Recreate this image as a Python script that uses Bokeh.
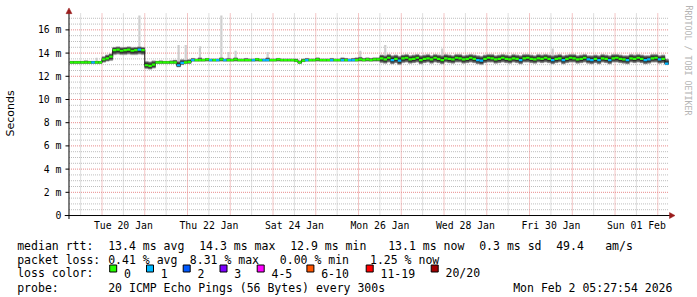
from datetime import datetime, timedelta
from bokeh.plotting import figure
from bokeh.layouts import column, row
from bokeh.models import Range1d, FixedTicker
from bokeh.core.properties import value
from bokeh.embed import file_html
from bokeh.resources import INLINE

# ---------------- data ----------------
start_time = "2026-01-19 06:00"      # first 2-hour sample
step_hours = 2
view_start = "2026-01-19 05:27:54"
view_end = "2026-02-02 05:27:54"

# median RTT per 2h step (ms)
median_ms = [
    13.2, 13.2, 13.2, 13.2, 13.2, 13.2, 13.2, 13.2, 13.2, 13.45, 13.55, 13.7,
    14.25, 14.3, 14.2, 14.25, 14.3, 14.2, 14.25, 14.3, 14.25, 12.95, 12.9, 13.0,
    13.2, 13.2, 13.2, 13.2, 13.2, 13.2, 12.95, 13.15, 13.2, 13.25, 13.4, 13.4,
    13.4, 13.4, 13.45, 13.4, 13.4, 13.4, 13.45, 13.4, 13.4, 13.4, 13.45, 13.4,
    13.4, 13.4, 13.4, 13.4, 13.45, 13.4, 13.4, 13.4, 13.4, 13.4, 13.45, 13.4,
    13.4, 13.4, 13.4, 13.35, 13.2, 13.35, 13.4, 13.4, 13.4, 13.45, 13.4, 13.4,
    13.4, 13.4, 13.4, 13.4, 13.4, 13.4, 13.4, 13.4, 13.4, 13.45, 13.4, 13.45,
    13.4, 13.45, 13.45, 13.55, 13.45, 13.6, 13.4, 13.5, 13.35, 13.55, 13.6, 13.45,
    13.5, 13.6, 13.4, 13.5, 13.55, 13.45, 13.6, 13.5, 13.4, 13.55, 13.5, 13.45,
    13.6, 13.55, 13.45, 13.5, 13.6, 13.5, 13.4, 13.35, 13.5, 13.6, 13.55, 13.45,
    13.5, 13.6, 13.5, 13.45, 13.55, 13.5, 13.4, 13.55, 13.6, 13.5, 13.45, 13.55,
    13.5, 13.6, 13.5, 13.4, 13.5, 13.55, 13.4, 13.5, 13.6, 13.55, 13.45, 13.5,
    13.6, 13.45, 13.4, 13.5, 13.4, 13.55, 13.5, 13.4, 13.55, 13.6, 13.5, 13.45,
    13.4, 13.55, 13.5, 13.6, 13.5, 13.4, 13.45, 13.55, 13.6, 13.45, 13.5, 13.1,
]
# lost pings (of 20) per step
lost_pings = [
    0, 0, 0, 0, 0, 0, 1, 0, 0, 0, 0, 0,
    0, 0, 0, 0, 0, 0, 0, 1, 0, 0, 0, 0,
    0, 0, 0, 0, 0, 0, 1, 1, 0, 0, 1, 0,
    0, 0, 0, 1, 0, 1, 0, 1, 0, 0, 0, 0,
    0, 0, 0, 1, 0, 0, 1, 1, 0, 0, 0, 0,
    0, 0, 0, 0, 0, 0, 1, 0, 0, 0, 0, 0,
    0, 1, 0, 0, 1, 0, 1, 1, 0, 0, 0, 0,
    0, 0, 0, 0, 0, 0, 1, 0, 1, 0, 0, 0,
    0, 0, 0, 0, 0, 0, 0, 0, 0, 0, 0, 0,
    0, 0, 0, 0, 0, 0, 1, 1, 0, 0, 0, 0,
    0, 0, 0, 0, 0, 0, 1, 0, 0, 0, 0, 0,
    0, 0, 0, 1, 0, 0, 1, 0, 0, 0, 0, 0,
    0, 1, 1, 0, 1, 0, 0, 1, 0, 0, 0, 0,
    1, 0, 0, 0, 0, 1, 1, 0, 0, 1, 0, 1,
]
# smoke (spread of the 20 pings) lower / upper bound, ms
smoke_lo = [
    13.1, 13.1, 13.1, 13.1, 13.1, 13.1, 13.1, 13.1, 13.1, 13.2, 13.3, 13.35,
    13.85, 13.9, 13.85, 13.85, 13.9, 13.85, 13.85, 13.9, 13.85, 12.65, 12.6, 12.7,
    13.1, 13.1, 13.1, 13.1, 13.1, 13.1, 12.8, 13.0, 13.1, 13.1, 13.3, 13.3,
    13.3, 13.3, 13.3, 13.3, 13.3, 13.3, 13.3, 13.3, 13.3, 13.3, 13.3, 13.3,
    13.3, 13.3, 13.3, 13.3, 13.3, 13.3, 13.3, 13.3, 13.3, 13.3, 13.3, 13.3,
    13.3, 13.3, 13.3, 13.25, 13.1, 13.25, 13.3, 13.3, 13.3, 13.3, 13.3, 13.3,
    13.3, 13.3, 13.3, 13.3, 13.3, 13.3, 13.3, 13.3, 13.3, 13.3, 13.3, 13.3,
    13.3, 13.3, 13.3, 13.15, 13.1, 13.2, 13.05, 13.15, 13.0, 13.15, 13.2, 13.1,
    13.15, 13.2, 13.05, 13.15, 13.2, 13.1, 13.2, 13.15, 13.05, 13.2, 13.15, 13.1,
    13.2, 13.2, 13.1, 13.15, 13.2, 13.15, 13.05, 13.0, 13.15, 13.2, 13.2, 13.1,
    13.15, 13.2, 13.15, 13.1, 13.2, 13.15, 13.05, 13.2, 13.2, 13.15, 13.1, 13.2,
    13.15, 13.2, 13.15, 13.05, 13.15, 13.2, 13.05, 13.15, 13.2, 13.2, 13.1, 13.15,
    13.2, 13.1, 13.05, 13.15, 13.05, 13.2, 13.15, 13.05, 13.2, 13.2, 13.15, 13.1,
    13.05, 13.2, 13.15, 13.2, 13.15, 13.05, 13.1, 13.2, 13.2, 13.1, 13.15, 13.0,
]
smoke_hi = [
    13.3, 13.3, 13.3, 13.3, 13.35, 13.3, 13.3, 13.3, 13.3, 13.7, 13.85, 13.95,
    14.5, 14.55, 14.5, 14.5, 14.55, 14.5, 14.5, 14.55, 14.5, 13.3, 13.25, 13.35,
    13.3, 13.35, 13.3, 13.3, 13.35, 13.4, 13.3, 13.45, 13.4, 13.45, 13.55, 13.5,
    13.6, 13.5, 13.55, 13.5, 13.5, 13.5, 13.6, 13.5, 13.55, 13.5, 13.6, 13.5,
    13.5, 13.55, 13.5, 13.5, 13.55, 13.5, 13.5, 13.6, 13.5, 13.5, 13.55, 13.5,
    13.5, 13.5, 13.5, 13.5, 13.35, 13.5, 13.55, 13.5, 13.5, 13.6, 13.5, 13.5,
    13.5, 13.55, 13.5, 13.5, 13.6, 13.55, 13.5, 13.55, 13.6, 13.65, 13.55, 13.6,
    13.55, 13.6, 13.6, 13.85, 13.8, 13.9, 13.8, 13.85, 13.75, 13.85, 13.9, 13.8,
    13.85, 13.9, 13.8, 13.85, 13.9, 13.8, 13.9, 13.85, 13.8, 13.9, 13.85, 13.8,
    13.9, 13.9, 13.8, 13.85, 13.9, 13.85, 13.8, 13.75, 13.85, 13.9, 13.9, 13.8,
    13.85, 13.9, 13.85, 13.8, 13.9, 13.85, 13.8, 13.9, 13.9, 13.85, 13.8, 13.9,
    13.85, 13.9, 13.85, 13.8, 13.85, 13.9, 13.8, 13.85, 13.9, 13.9, 13.8, 13.85,
    13.9, 13.8, 13.8, 13.85, 13.8, 13.9, 13.85, 13.8, 13.9, 13.9, 13.85, 13.8,
    13.8, 13.9, 13.85, 13.9, 13.85, 13.8, 13.8, 13.9, 13.9, 13.8, 13.85, 13.5,
]
# single slow pings (max of a step), ms
spike_times = ["2026-01-19 20:00", "2026-01-20 20:00", "2026-01-21 18:00",
               "2026-01-21 22:00", "2026-01-22 06:00", "2026-01-22 18:00",
               "2026-01-22 22:00", "2026-01-23 02:00", "2026-01-23 20:00",
               "2026-01-26 00:00", "2026-01-26 14:00", "2026-01-27 22:00",
               "2026-01-30 12:00"]
spike_ms = [13.6, 17.25, 14.7, 14.7, 14.6, 17.25, 14.1, 14.2, 14.1,
            14.2, 14.7, 14.4, 14.4]

x_label_days = ["2026-01-20", "2026-01-22", "2026-01-24", "2026-01-26",
                "2026-01-28", "2026-01-30", "2026-02-01"]
x_label_text = ["Tue 20 Jan", "Thu 22 Jan", "Sat 24 Jan", "Mon 26 Jan",
                "Wed 28 Jan", "Fri 30 Jan", "Sun 01 Feb"]
y_ticks = [0, 2, 4, 6, 8, 10, 12, 14, 16]
y_tick_text = ["0", "2 m", "4 m", "6 m", "8 m", "10 m", "12 m", "14 m", "16 m"]
y_top = 17.45

loss_classes = ["0", "1", "2", "3", "4-5", "6-10", "11-19", "20/20"]
loss_upper = [0, 1, 2, 3, 5, 10, 19, 20]
loss_colors = ["#26ff00", "#00b8ff", "#0059ff", "#7e00ff", "#ff00ff",
               "#ff5500", "#ff0000", "#a10000"]

legend_rtt = ["median rtt:", "13.4 ms avg", "14.3 ms max", "12.9 ms min",
              "13.1 ms now", "0.3 ms sd", "49.4", "am/s"]
legend_loss = ["packet loss:", "0.41 % avg", "8.31 % max", "0.00 % min",
               "1.25 % now"]
legend_probe = ["probe:", "20 ICMP Echo Pings (56 Bytes) every 300s",
                "Mon Feb  2 05:27:54 2026"]
watermark = "RRDTOOL / TOBI OETIKER"

# ---------------- helpers ----------------
EPOCH = datetime(1970, 1, 1)


def ms(dt):
    return (dt - EPOCH).total_seconds() * 1000.0


def parse(s):
    for f in ("%Y-%m-%d %H:%M", "%Y-%m-%d %H:%M:%S", "%Y-%m-%d"):
        try:
            return datetime.strptime(s, f)
        except ValueError:
            pass
    raise ValueError(s)


def loss_color(n):
    for up, c in zip(loss_upper, loss_colors):
        if n <= up:
            return c
    return loss_colors[-1]


def no_align(fig):
    try:
        fig.frame_align = False
    except Exception:
        pass


t0 = parse(start_time)
step = timedelta(hours=step_hours)
n = len(median_ms)
left = [ms(t0 + i * step) for i in range(n)]
right = [ms(t0 + (i + 1) * step) for i in range(n)]

x0 = ms(parse(view_start))
x1 = ms(parse(view_end))

# geometry: data area 66.5 .. 667 px, y=0 at 216 px, 11.657 px per ms
PX_X = (x1 - x0) / 600.5          # ms of time per pixel
PX_Y = 1.0 / 11.657               # ms of RTT per pixel
FR_L, FR_R, FR_T, FR_B = 62, 675, 7, 220
MONO = value("DejaVu Sans Mono")

# ---------------- main chart ----------------
p = figure(width=FR_R + 1, height=233, x_axis_type="datetime",
           x_range=Range1d(x0 - 4.5 * PX_X, x1 + 8 * PX_X),
           y_range=Range1d(-4 * PX_Y, 0 + 209 * PX_Y),
           output_backend="svg", toolbar_location=None,
           min_border_left=FR_L, min_border_right=1, min_border_top=FR_T,
           min_border_bottom=233 - FR_B, background_fill_color="white",
           border_fill_color="white")
no_align(p)
p.outline_line_color = None
p.grid.visible = False

# grid lines (dotted), limited to the data area
days = []
d = datetime(parse(view_start).year, parse(view_start).month, parse(view_start).day)
while ms(d) <= x1:
    days.append(d)
    d += timedelta(days=1)
midnights = [ms(v) for v in days if ms(v) >= x0]
noons = [ms(v + timedelta(hours=12)) for v in days if x0 <= ms(v + timedelta(hours=12)) <= x1]
y_minor = [k * 0.5 for k in range(1, 35) if k % 4 != 0]
y_major = [v for v in y_ticks if v > 0]
GR, GG = "#e88a8a", "#bdbdbd"
p.segment(x0=noons, x1=noons, y0=[0] * len(noons), y1=[y_top] * len(noons),
          line_color=GG, line_dash="1 1", line_width=1)
p.segment(x0=[x0] * len(y_minor), x1=[x1 + PX_X] * len(y_minor), y0=y_minor,
          y1=y_minor, line_color=GG, line_dash="1 1", line_width=1)
p.segment(x0=midnights, x1=midnights, y0=[0] * len(midnights),
          y1=[y_top] * len(midnights), line_color=GR, line_dash="1 1", line_width=1)
p.segment(x0=[x0] * len(y_major), x1=[x1 + PX_X] * len(y_major), y0=y_major,
          y1=y_major, line_color=GR, line_dash="1 1", line_width=1)

# axes (labels only; lines drawn below)
label_ticks = [ms(parse(s) + timedelta(hours=12)) for s in x_label_days]
p.xaxis.ticker = FixedTicker(ticks=label_ticks, minor_ticks=[])
p.xaxis.major_label_overrides = {t: s for t, s in zip(label_ticks, x_label_text)}
p.yaxis.ticker = FixedTicker(ticks=y_ticks, minor_ticks=[])
p.yaxis.major_label_overrides = {float(v): s for v, s in zip(y_ticks, y_tick_text)}
for ax in (p.xaxis, p.yaxis):
    ax.axis_line_color = None
    ax.major_tick_line_color = None
    ax.minor_tick_line_color = None
    ax.major_tick_out = 0
    ax.major_tick_in = 0
    ax.minor_tick_out = 0
    ax.minor_tick_in = 0
    ax.major_label_text_font = "DejaVu Sans Mono"
    ax.major_label_text_font_size = "9.8px"
    ax.major_label_text_color = "#000000"
p.xaxis.major_label_standoff = 0
p.yaxis.major_label_standoff = 3
p.yaxis.axis_label = "Seconds"
p.yaxis.axis_label_text_font = "DejaVu Sans"
p.yaxis.axis_label_text_font_size = "11px"
p.yaxis.axis_label_text_font_style = "normal"
p.yaxis.axis_label_text_color = "#000000"
p.yaxis.axis_label_standoff = 18

# spikes (slow single pings)
sp_x = [ms(parse(s) + step / 2) for s in spike_times]
sp_base = []
for s in spike_times:
    i = int(round((ms(parse(s)) - left[0]) / (step.total_seconds() * 1000)))
    sp_base.append(median_ms[i])
p.vbar(x=sp_x, width=2.2 * PX_X, bottom=sp_base, top=spike_ms,
       fill_color="#cfcfcf", line_color=None)

# smoke bands
outer_b, outer_t, mid_b, mid_t, in_b, in_t = [], [], [], [], [], []
for m, lo, hi in zip(median_ms, smoke_lo, smoke_hi):
    outer_b.append(lo); outer_t.append(hi)
    mid_b.append(m - 0.8 * (m - lo)); mid_t.append(m + 0.8 * (hi - m))
    in_b.append(m - 0.5 * (m - lo)); in_t.append(m + 0.5 * (hi - m))
p.quad(left=left, right=right, bottom=outer_b, top=outer_t,
       fill_color="#a6a6a6", line_color="#a6a6a6", line_width=0.4)
p.quad(left=left, right=right, bottom=mid_b, top=mid_t,
       fill_color="#5c5c5c", line_color="#5c5c5c", line_width=0.4)
p.quad(left=left, right=right, bottom=in_b, top=in_t,
       fill_color="#2e2e2e", line_color="#2e2e2e", line_width=0.4)

# median: black connecting step line + loss-coloured segments
p.step(x=left + [right[-1]], y=median_ms + [median_ms[-1]], mode="after",
       line_color="#1a1a1a", line_width=1)
p.segment(x0=left, x1=right, y0=median_ms, y1=median_ms,
          line_color=[loss_color(v) for v in lost_pings], line_width=2.2)

# axis lines, tick dashes and arrow heads
p.segment(x0=[x0 - 4.5 * PX_X, x0], x1=[x1 + 3 * PX_X, x0],
          y0=[0, -3.5 * PX_Y], y1=[0, y_top + 0.1], line_color="#000000",
          line_width=1)
p.segment(x0=[x0 - 3.5 * PX_X] * len(y_major), x1=[x0] * len(y_major),
          y0=y_major, y1=y_major, line_color="#000000", line_width=1)
AC = "#9a1c1c"
p.patches(xs=[[x0 - 3 * PX_X, x0 + 3 * PX_X, x0],
              [x1 + 2 * PX_X, x1 + 2 * PX_X, x1 + 7.5 * PX_X]],
          ys=[[y_top - 0.05, y_top - 0.05, y_top + 5.2 * PX_Y],
              [3 * PX_Y, -3 * PX_Y, 0]],
          fill_color=AC, line_color=AC, line_width=0.5)

# ---------------- watermark strip ----------------
wm = figure(width=697 - (FR_R + 1), height=233, x_range=Range1d(FR_R + 1, 697),
            y_range=Range1d(233, 0), output_backend="svg",
            toolbar_location=None, min_border=0)
no_align(wm)
wm.axis.visible = False
wm.grid.visible = False
wm.outline_line_color = None
wm.text(x=[688], y=[5], text=[watermark], angle=-1.5708, text_font=MONO,
        text_font_size="8.3px", text_align="left", text_baseline="middle",
        text_color="#b4b4b4")

# ---------------- legend block ----------------
leg = figure(width=697, height=64, x_range=Range1d(0, 697),
             y_range=Range1d(297, 233), output_backend="svg",
             toolbar_location=None, min_border=0)
no_align(leg)
leg.axis.visible = False
leg.grid.visible = False
leg.outline_line_color = None

rtt_x = [16.7, 107.7, 198.7, 289.7, 387.7, 478.7, 555.7, 604.7]
loss_x = [16.7, 107.7, 189.3, 279.3, 369.5]
probe_x = [16.7, 107.7, 512.7]
sq_x = [109, 145.8, 182.5, 219.3, 256.5, 306.2, 365.5, 430.5]

txt_x = rtt_x + loss_x + [16.7] + [sx + 14.5 for sx in sq_x] + probe_x
txt_y = ([245] * len(rtt_x) + [259] * len(loss_x) + [272.8] * (1 + len(sq_x))
         + [287.3] * len(probe_x))
txt = legend_rtt + legend_loss + ["loss color:"] + loss_classes + legend_probe
leg.text(x=txt_x, y=txt_y, text=txt, text_font=MONO, text_font_size="11.5px",
         text_align="left", text_baseline="alphabetic", text_color="#000000")
leg.rect(x=[sx + 3.7 for sx in sq_x], y=[268] * len(sq_x), width=7, height=7,
         fill_color=loss_colors, line_color="#000000", line_width=1)

layout = column(row(p, wm, spacing=0), leg, spacing=0)
open("out.html", "w").write(file_html(layout, INLINE))
